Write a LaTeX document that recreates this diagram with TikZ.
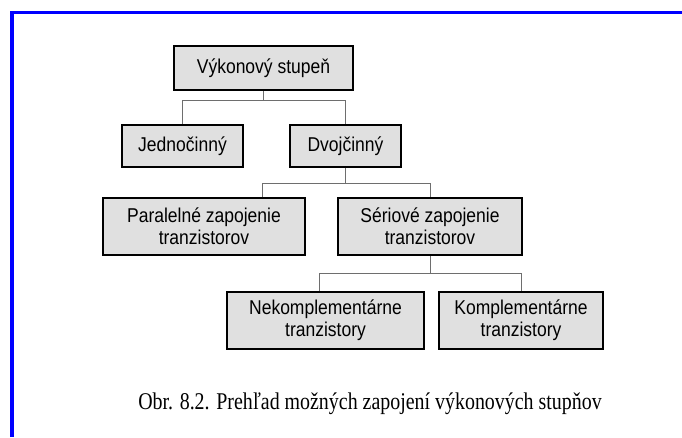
\documentclass[tikz,border=0pt]{standalone}
\usepackage{fontspec}
\setmainfont{Liberation Serif}
\newfontfamily\boxfont[FakeStretch=0.875]{Liberation Sans}
\newfontfamily\capfont[FakeStretch=0.83]{Liberation Serif}
\usetikzlibrary{calc}
\definecolor{boxgray}{RGB}{224,224,224}
\definecolor{wiregray}{RGB}{110,110,110}
\definecolor{frameblue}{RGB}{0,0,255}
\begin{document}
\begin{tikzpicture}[x=1pt,y=-1pt,
  blk/.style={draw=black, line width=1.6pt, fill=boxgray, rectangle,
    inner sep=0pt, align=center,
    font=\boxfont\fontsize{20}{22}\selectfont},
  wire/.style={draw=wiregray, line width=1pt}]
\useasboundingbox (0,0) rectangle (682,437);
\fill[white] (0,0) rectangle (682,437);
% frame (top and left edges)
\draw[frameblue, line width=3.5pt] (12,437) -- (12,12.5) -- (682,12.5);

% blocks
\node[blk, minimum width=179pt, minimum height=44pt] (top) at (263.5,68) {Výkonový stupeň};
\node[blk, minimum width=121pt, minimum height=42pt] (jedno) at (182.5,146) {Jednočinný};
\node[blk, minimum width=111pt, minimum height=42pt] (dvoj) at (345.5,146) {Dvojčinný};
\node[blk, minimum width=202pt, minimum height=57pt] (paral) at (204,226.5) {Paralelné zapojenie\\tranzistorov};
\node[blk, minimum width=184pt, minimum height=57pt] (seri) at (430,226.5) {Sériové zapojenie\\tranzistorov};
\node[blk, minimum width=197pt, minimum height=57pt] (nek) at (325.5,320.5) {Nekomplementárne\\tranzistory};
\node[blk, minimum width=164pt, minimum height=57pt] (kom) at (521,320.5) {Komplementárne\\tranzistory};

% tree connectors
\coordinate (b1) at ($(top.south)+(0,10)$);
\draw[wire] (top.south) -- (b1);
\draw[wire] (jedno.north) |- (b1) -| (dvoj.north);

\coordinate (b2) at ($(dvoj.south)+(0,16)$);
\coordinate (pdrop) at ($(paral.north east)+(-43,0)$);
\draw[wire] (dvoj.south) -- (b2);
\draw[wire] (pdrop) |- (b2) -| (seri.north);

\coordinate (b3) at ($(seri.south)+(0,18)$);
\coordinate (ndrop) at ($(nek.north)+(-6,0)$);
\draw[wire] (seri.south) -- (b3);
\draw[wire] (ndrop) |- (b3) -| (kom.north);

% caption
\node[anchor=base, inner sep=0pt, font=\capfont\fontsize{24}{28}\selectfont] (cap) at (370,409)
  {Obr. 8.2. Prehľad možných zapojení výkonových stupňov};
\end{tikzpicture}
\end{document}
